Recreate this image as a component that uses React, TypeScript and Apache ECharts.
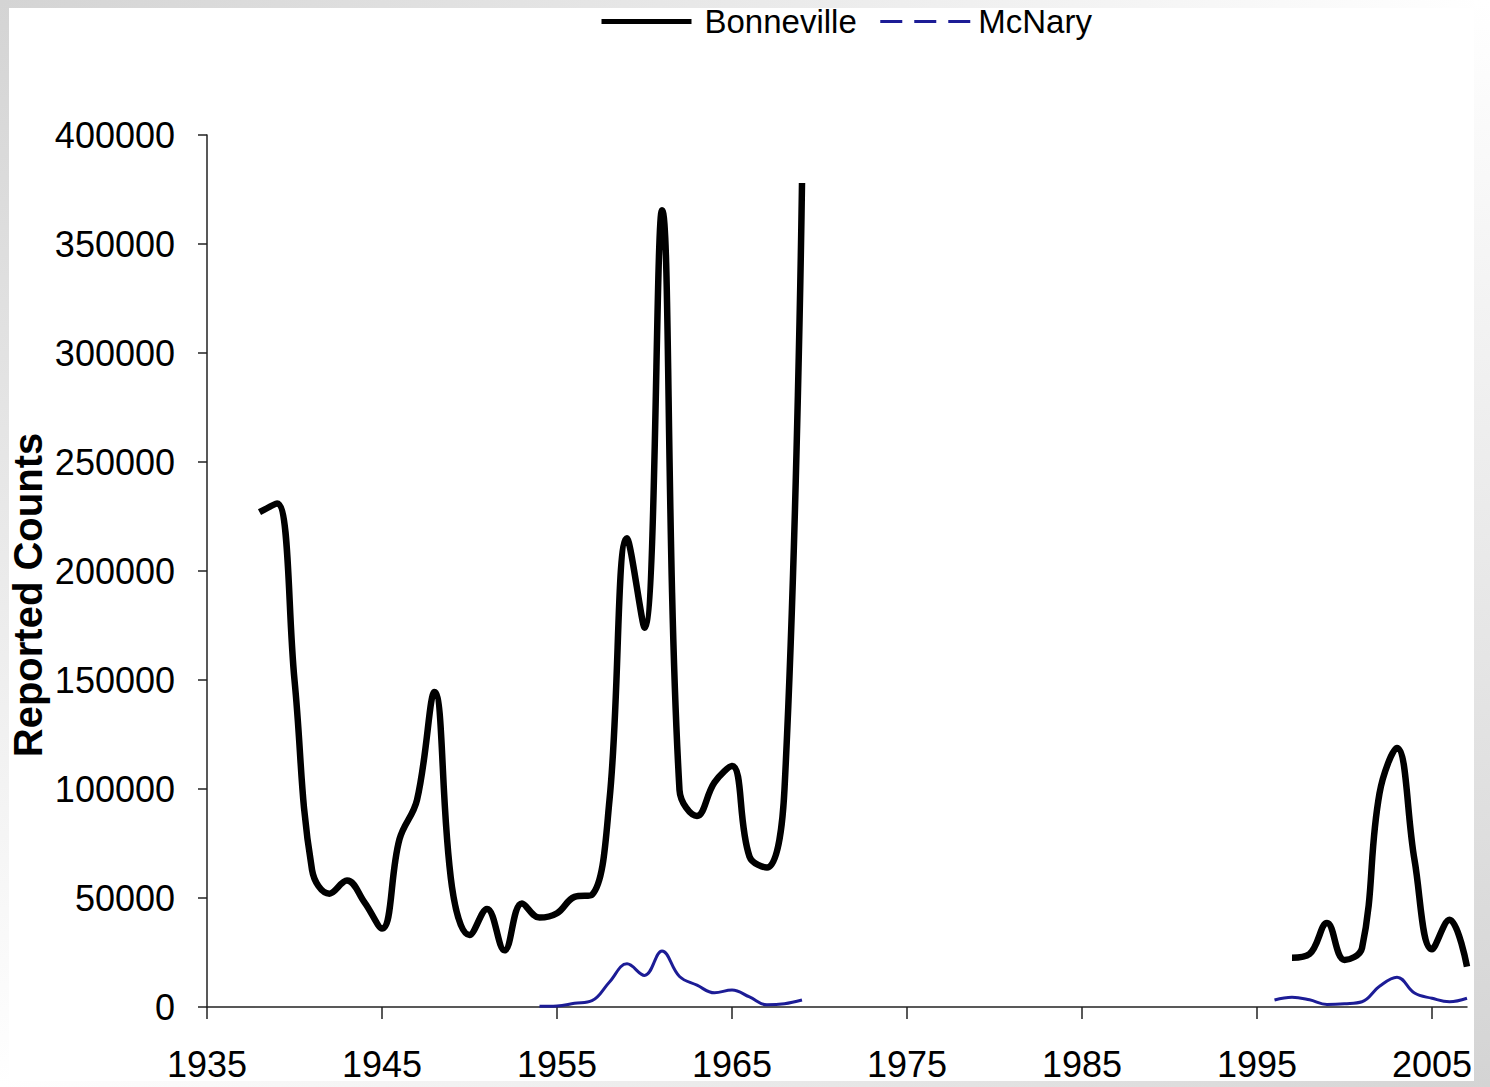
import React, { useEffect, useRef } from "react";
import * as echarts from "echarts";

const xTickValues = [1935, 1945, 1955, 1965, 1975, 1985, 1995, 2005];
const yTickMax = 400000;
const yTickStep = 50000;

const bonnevilleEarlyYears = [
  1938, 1939, 1940, 1941, 1942, 1943, 1944, 1945, 1946, 1947, 1948, 1949, 1950, 1951, 1952, 1953,
  1954, 1955, 1956, 1957, 1958, 1959, 1960, 1961, 1962, 1963, 1964, 1965, 1966, 1967, 1968, 1969,
];
const bonnevilleEarly = [
  227000, 231000, 150000, 63000, 52000, 58000, 48000, 36000, 77000, 95000, 144500, 55000, 33000, 45000, 26000, 47500,
  41000, 43000, 50500, 51500, 95000, 215000, 174000, 365500, 99500, 87600, 103000, 110500, 69000, 64000, 100000, 378000,
];
const bonnevilleLateYears = [1997, 1998, 1999, 2000, 2001, 2002, 2003, 2004, 2005, 2006, 2007];
const bonnevilleLate = [22600, 24300, 38500, 21600, 27000, 98000, 118800, 67500, 26500, 40000, 18500];

const mcnaryEarlyYears = [
  1954, 1955, 1956, 1957, 1958, 1959, 1960, 1961, 1962, 1963, 1964, 1965, 1966, 1967, 1968, 1969,
];
const mcnaryEarly = [300, 500, 1700, 2900, 11500, 19800, 14500, 25700, 14000, 10000, 6500, 7800, 4600, 1000, 1500, 3200];
const mcnaryLateYears = [1996, 1997, 1998, 1999, 2000, 2001, 2002, 2003, 2004, 2005, 2006, 2007];
const mcnaryLate = [3200, 4500, 3300, 1200, 1500, 2400, 9500, 13700, 6400, 4000, 2400, 4000];

const gapYear = 1983;

function buildSeries(y1: number[], v1: number[], y2: number[], v2: number[]) {
  const d: any[] = [];
  y1.forEach((y, i) => d.push([y, v1[i]]));
  d.push([gapYear, "-"]);
  y2.forEach((y, i) => d.push([y, v2[i]]));
  return d;
}

const FONT = "'Liberation Sans', Arial, sans-serif";
const GRAY = "#d4d4d4";
const BLUE = "#1c1c96";

export default function App() {
  const ref = useRef<HTMLDivElement>(null);
  useEffect(() => {
    if (!ref.current) return;
    const chart = echarts.init(ref.current, null, { renderer: "svg" });
    const W = 1490;
    const H = 1087;
    chart.setOption({
      animation: false,
      backgroundColor: "#ffffff",
      legend: {
        left: 594,
        top: 0,
        itemWidth: 90,
        itemHeight: 14,
        itemGap: 22,
        textStyle: { fontFamily: FONT, fontSize: 33, color: "#000" },
        data: [
          {
            name: "Bonneville",
            itemStyle: { opacity: 0 },
            lineStyle: { width: 5, color: "#000" },
            textStyle: { padding: [0, 0, 0, 8] },
          },
          {
            name: "McNary",
            itemStyle: { opacity: 0 },
            lineStyle: { width: 3, color: BLUE, type: [22, 12] },
            textStyle: { padding: [0, 0, 0, 3] },
          },
        ],
      },
      grid: { left: 207, right: 23, top: 135, bottom: 80, containLabel: false },
      xAxis: {
        type: "value",
        min: 1935,
        max: 2007,
        interval: 10,
        splitLine: { show: false },
        axisLine: { lineStyle: { color: "#222", width: 1.5 } },
        axisTick: { show: true, length: 12, lineStyle: { color: "#222", width: 1.5 }, customValues: xTickValues },
        axisLabel: {
          customValues: xTickValues,
          margin: 39,
          fontFamily: FONT,
          fontSize: 36,
          color: "#000",
          formatter: (v: number) => String(v),
        },
      },
      yAxis: {
        type: "value",
        min: 0,
        max: yTickMax,
        interval: yTickStep,
        splitLine: { show: false },
        axisLine: { show: true, lineStyle: { color: "#222", width: 1.5 } },
        axisTick: { show: true, length: 9, lineStyle: { color: "#222", width: 1.5 } },
        axisLabel: {
          margin: 32,
          fontFamily: FONT,
          fontSize: 36,
          color: "#000",
          formatter: (v: number) => String(v),
        },
      },
      graphic: [
        {
          type: "text",
          x: 28,
          y: 595,
          rotation: Math.PI / 2,
          style: {
            text: "Reported Counts",
            fontFamily: FONT,
            fontSize: 40,
            fontWeight: "bold",
            fill: "#000",
            align: "center",
            verticalAlign: "middle",
          },
        },
        {
          type: "rect",
          z: 100,
          shape: { x: 0, y: 0, width: W, height: 8 },
          style: {
            fill: new echarts.graphic.LinearGradient(0, 0, 1, 0, [
              { offset: 0, color: GRAY },
              { offset: 1, color: "#ffffff" },
            ]),
          },
        },
        {
          type: "rect",
          z: 100,
          shape: { x: 0, y: 0, width: 9, height: H },
          style: {
            fill: new echarts.graphic.LinearGradient(0, 0, 0, 1, [
              { offset: 0, color: GRAY },
              { offset: 1, color: "#ffffff" },
            ]),
          },
        },
        {
          type: "rect",
          z: 100,
          shape: { x: 1474, y: 0, width: W - 1474, height: H },
          style: {
            fill: new echarts.graphic.LinearGradient(0, 0, 0, 1, [
              { offset: 0, color: "#ffffff" },
              { offset: 1, color: GRAY },
            ]),
          },
        },
        {
          type: "rect",
          z: 100,
          shape: { x: 0, y: 1081, width: W, height: H - 1081 },
          style: {
            fill: new echarts.graphic.LinearGradient(0, 0, 1, 0, [
              { offset: 0, color: "#ffffff" },
              { offset: 1, color: GRAY },
            ]),
          },
        },
      ],
      series: [
        {
          name: "Bonneville",
          type: "line",
          smooth: 0.4,
          symbol: "none",
          connectNulls: false,
          lineStyle: { color: "#000", width: 6.5 },
          itemStyle: { color: "#000" },
          data: buildSeries(bonnevilleEarlyYears, bonnevilleEarly, bonnevilleLateYears, bonnevilleLate),
        },
        {
          name: "McNary",
          type: "line",
          smooth: 0.4,
          symbol: "none",
          connectNulls: false,
          lineStyle: { color: BLUE, width: 3 },
          itemStyle: { color: BLUE },
          data: buildSeries(mcnaryEarlyYears, mcnaryEarly, mcnaryLateYears, mcnaryLate),
        },
      ],
    });
    return () => chart.dispose();
  }, []);
  return (
    <div
      ref={ref}
      style={{ position: "fixed", left: 0, top: 0, width: 1490, height: 1087, background: "#fff" }}
    />
  );
}
